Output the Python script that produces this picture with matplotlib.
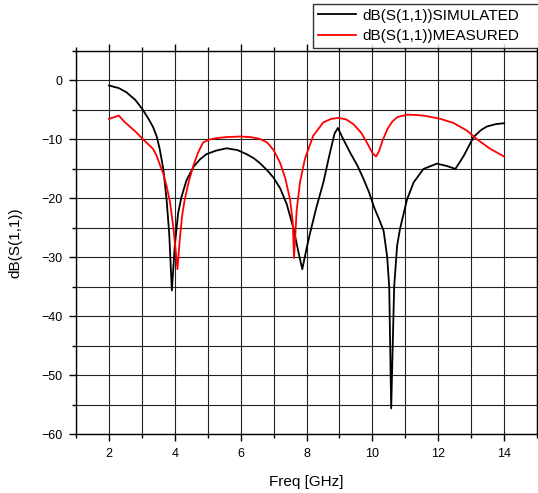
import numpy as np
import matplotlib.pyplot as plt
from matplotlib.ticker import MultipleLocator

plt.rcParams['font.family'] = ['Liberation Sans', 'DejaVu Sans']

# =========================================
# Data
# =========================================

freq_sim = [2.0, 2.3, 2.53, 2.8, 3.02, 3.2, 3.34, 3.45, 3.54, 3.65, 3.75, 3.83,
            3.91, 4.0, 4.1, 4.2, 4.35, 4.56, 4.76, 4.96, 5.25, 5.57, 5.9, 6.18,
            6.4, 6.58, 6.8, 7.0, 7.2, 7.4, 7.6, 7.75, 7.87, 8.0, 8.11, 8.3,
            8.51, 8.7, 8.85, 8.95, 9.1, 9.32, 9.55, 9.73, 9.9, 10.05, 10.2,
            10.34, 10.45, 10.51, 10.57, 10.66, 10.75, 10.84, 11.05, 11.25,
            11.55, 11.96, 12.26, 12.52, 12.77, 13.07, 13.3, 13.48, 13.75, 14.0]
s11_sim = [-0.85, -1.3, -2.0, -3.3, -4.9, -6.5, -7.9, -9.5, -11.6, -15.0, -20.2,
           -26.0, -35.6, -28.0, -22.5, -19.8, -17.0, -14.7, -13.4, -12.5, -11.9,
           -11.5, -11.8, -12.5, -13.2, -14.0, -15.2, -16.5, -18.3, -21.0, -25.0,
           -29.0, -32.0, -28.5, -25.8, -21.5, -17.3, -12.5, -9.0, -8.05, -9.8,
           -12.2, -14.5, -16.7, -19.0, -21.5, -23.5, -25.5, -30.0, -35.0, -55.6,
           -35.0, -28.0, -25.1, -20.2, -17.3, -15.0, -14.1, -14.5, -15.0, -12.8,
           -9.6, -8.4, -7.8, -7.4, -7.25]

freq_meas = [2.0, 2.12, 2.3, 2.45, 2.63, 2.83, 3.02, 3.19, 3.34, 3.45, 3.54, 3.65,
             3.75, 3.85, 3.95, 4.02, 4.08, 4.15, 4.22, 4.3, 4.43, 4.56, 4.7,
             4.86, 5.06, 5.3, 5.57, 5.98, 6.3, 6.58, 6.8, 7.0, 7.2, 7.35, 7.5,
             7.58, 7.62, 7.7, 7.8, 7.95, 8.2, 8.51, 8.75, 8.97, 9.2, 9.42, 9.65,
             9.83, 10.0, 10.11, 10.2, 10.3, 10.46, 10.6, 10.76, 11.06, 11.3,
             11.55, 12.06, 12.46, 12.87, 13.18, 13.58, 14.0]
s11_meas = [-6.5, -6.3, -5.95, -6.9, -7.8, -8.8, -9.9, -10.8, -11.6, -12.8, -14.2,
            -15.8, -17.9, -20.5, -24.7, -28.5, -32.0, -27.0, -23.0, -20.2, -17.0,
            -14.5, -12.3, -10.5, -10.0, -9.75, -9.6, -9.5, -9.6, -9.9, -10.5,
            -11.8, -14.0, -16.5, -20.2, -24.0, -30.1, -22.0, -17.3, -13.3, -9.4,
            -7.1, -6.5, -6.35, -6.6, -7.4, -8.8, -10.5, -12.3, -12.9, -12.0,
            -10.3, -8.2, -7.0, -6.2, -5.8, -5.85, -5.95, -6.5, -7.2, -8.5,
            -10.0, -11.6, -12.9]

# =========================================
# Plot
# =========================================

fig = plt.figure(figsize=(5.38, 4.93), dpi=100)
ax = fig.add_axes([0.1413, 0.119, 0.857, 0.7776])

ax.plot(freq_sim, s11_sim, color='black', lw=1.3,
        label='dB(S(1,1))SIMULATED')
ax.plot(freq_meas, s11_meas, color='red', lw=1.3,
        label='dB(S(1,1))MEASURED')

ax.set_xlim(1, 15)
ax.set_ylim(-60, 5)

ax.xaxis.set_major_locator(MultipleLocator(2))
ax.xaxis.set_minor_locator(MultipleLocator(1))
ax.yaxis.set_major_locator(MultipleLocator(10))
ax.yaxis.set_minor_locator(MultipleLocator(5))

ax.tick_params(which='both', direction='out', top=True, right=True,
               labelsize=9, width=1, color='black', pad=4.5)
ax.tick_params(which='major', length=5)
ax.tick_params(which='minor', length=3)

ax.grid(True, which='both', color='#222222', lw=0.8)
ax.set_axisbelow(True)

for sp in ax.spines.values():
    sp.set_linewidth(1)

ax.set_xlabel('Freq [GHz]', fontsize=11, labelpad=11)
ax.set_ylabel('dB(S(1,1))', fontsize=11, labelpad=14)

# legend box runs off the right edge, like the reference
leg = fig.legend(loc='upper left',
                 bbox_to_anchor=(313 / 538, 1 - 48 / 493, 240 / 538, 44 / 493),
                 mode='expand', fontsize=11, frameon=True, fancybox=False,
                 handlelength=2.5, borderpad=0.3, labelspacing=0.45,
                 handletextpad=0.4, borderaxespad=0)
leg.get_frame().set_edgecolor('black')
leg.get_frame().set_linewidth(1)

plt.savefig('out.png', dpi=100)
